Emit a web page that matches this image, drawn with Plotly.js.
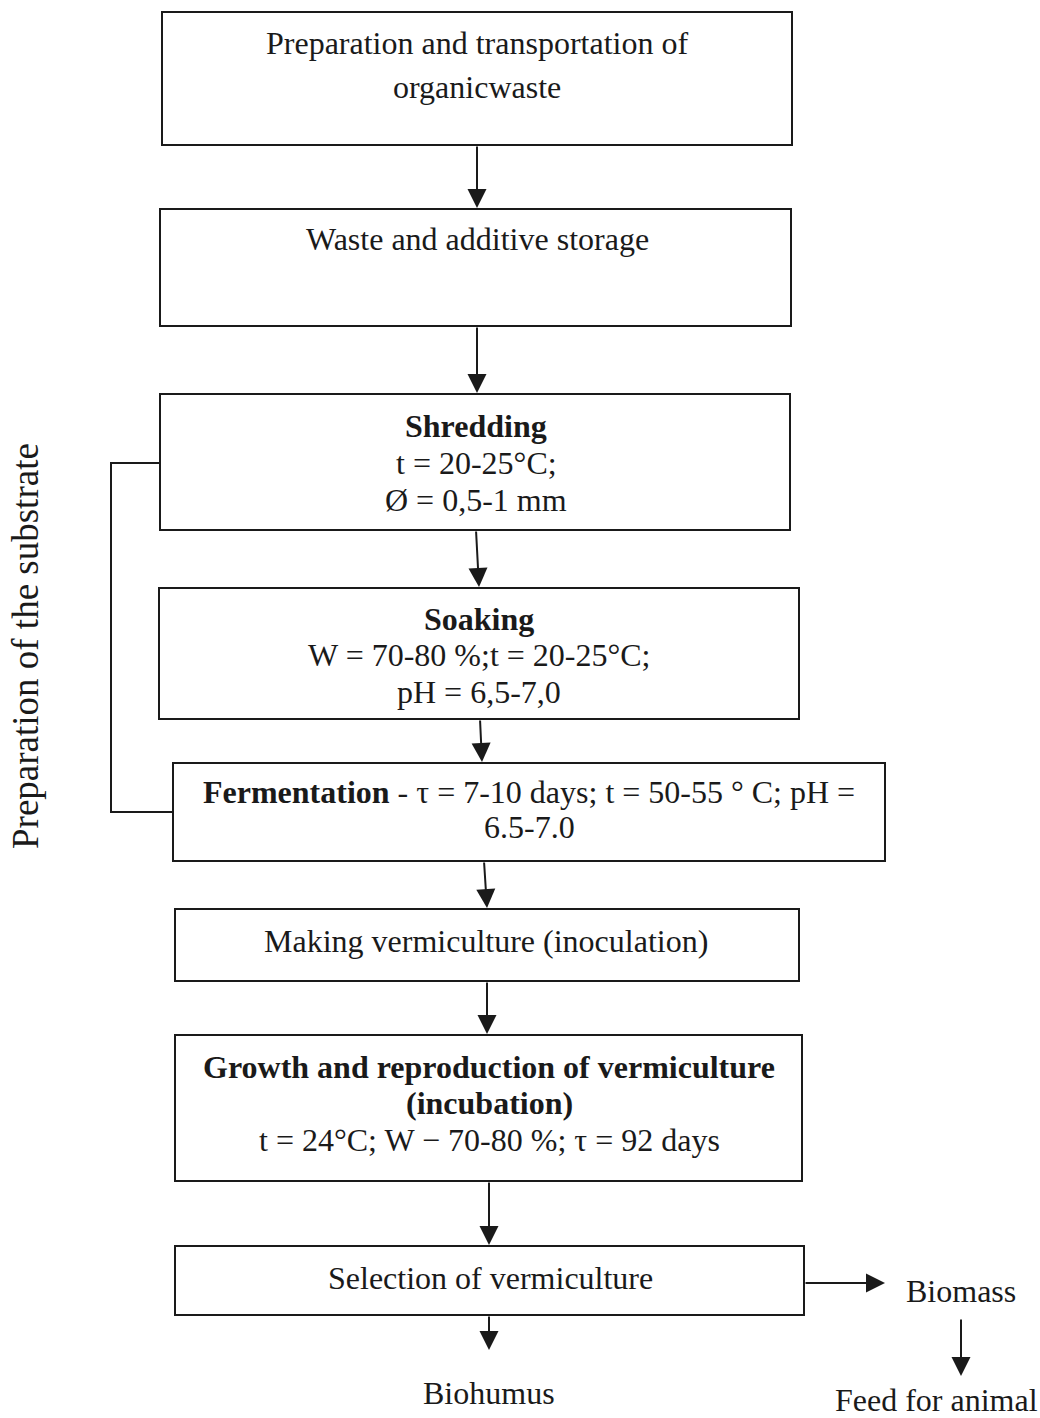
<!DOCTYPE html>
<html>
<head>
<meta charset="utf-8">
<script src="https://cdn.plot.ly/plotly-3.0.1.min.js"></script>
<style>html,body{margin:0;padding:0;background:#fff;}#chart{width:1040px;height:1418px;}</style>
</head>
<body>
<div id="chart"></div>
<script>
// ---- content (text of the flowchart) ----
const step1Lines = ["Preparation and transportation of", "organicwaste"];
const step2Lines = ["Waste and additive storage"];
const step3Lines = ["<b>Shredding</b>", "t = 20-25°C;", "Ø = 0,5-1 mm"];
const step4Lines = ["<b>Soaking</b>", "W = 70-80 %;t = 20-25°C;", "pH = 6,5-7,0"];
const step5Lines = ["<b>Fermentation</b> - τ = 7-10 days; t = 50-55 ° C; pH =", "6.5-7.0"];
const step6Lines = ["Making vermiculture (inoculation)"];
const step7Lines = ["<b>Growth and reproduction of vermiculture</b>", "<b>(incubation)</b>", "t = 24°C; W − 70-80 %; τ = 92 days"];
const step8Lines = ["Selection of vermiculture"];
const outputLabels = ["Biomass", "Feed for animal", "Biohumus"];
const groupLabel = "Preparation of the substrate";

// ---- geometry (pixel layout, separate from content) ----
const boxes = [
  {x0:162, x1:792, y0:12,  y1:145, lines:step1Lines, tx:477, ty:[43, 87]},
  {x0:160, x1:791, y0:209, y1:326, lines:step2Lines, tx:477, ty:[239]},
  {x0:160, x1:790, y0:394, y1:530, lines:step3Lines, tx:476, ty:[426, 463, 500]},
  {x0:159, x1:799, y0:588, y1:719, lines:step4Lines, tx:479, ty:[619, 655, 692]},
  {x0:173, x1:885, y0:763, y1:861, lines:step5Lines, tx:529, ty:[792, 827]},
  {x0:175, x1:799, y0:909, y1:981, lines:step6Lines, tx:486, ty:[941]},
  {x0:175, x1:802, y0:1035,y1:1181,lines:step7Lines, tx:489, ty:[1067, 1103, 1140]},
  {x0:175, x1:804, y0:1246,y1:1315,lines:step8Lines, tx:490, ty:[1278]}
];
const arrows = [
  {x0:477, y0:145, x1:477, y1:208},
  {x0:477, y0:326, x1:477, y1:393},
  {x0:476, y0:530, x1:479, y1:587},
  {x0:480, y0:719, x1:482, y1:762},
  {x0:484, y0:861, x1:487, y1:908},
  {x0:487, y0:981, x1:487, y1:1034},
  {x0:489, y0:1181,x1:489, y1:1245},
  {x0:804, y0:1283,x1:885, y1:1283},
  {x0:961, y0:1318,x1:961, y1:1376},
  {x0:489, y0:1315,x1:489, y1:1350}
];
const outputPos = [{x:961, y:1291}, {x:936, y:1400}, {x:489, y:1393}];

const FONT = "Liberation Serif, Times New Roman, serif";
const FS = 32;
const INK = '#1a1a1a';

const shapes = [];
const annotations = [];

boxes.forEach(b => {
  shapes.push({type:'rect', xref:'x', yref:'y', x0:b.x0, x1:b.x1, y0:b.y0, y1:b.y1,
    line:{color:INK, width:2}, fillcolor:'rgba(0,0,0,0)'});
  b.lines.forEach((t, i) => {
    annotations.push({x:b.tx, y:b.ty[i], xref:'x', yref:'y', text:t, showarrow:false,
      xanchor:'center', yanchor:'middle', font:{family:FONT, size:FS, color:INK}});
  });
});

// bracket grouping the substrate preparation steps
shapes.push({type:'path', xref:'x', yref:'y',
  path:'M 160 463 L 111 463 L 111 812 L 173 812', line:{color:INK, width:2}});

arrows.forEach(a => {
  annotations.push({x:a.x1, y:a.y1, ax:a.x0, ay:a.y0, xref:'x', yref:'y', axref:'x', ayref:'y',
    text:'', showarrow:true, arrowhead:2, arrowsize:1.9, arrowwidth:2, arrowcolor:INK, standoff:0});
});

outputLabels.forEach((t, i) => {
  annotations.push({x:outputPos[i].x, y:outputPos[i].y, xref:'x', yref:'y', text:t, showarrow:false,
    xanchor:'center', yanchor:'middle', font:{family:FONT, size:FS, color:INK}});
});

annotations.push({x:25.5, y:646.5, xref:'x', yref:'y', text:groupLabel, showarrow:false, textangle:-90,
  xanchor:'center', yanchor:'middle', font:{family:FONT, size:37, color:INK}});

const layout = {
  width:1040, height:1418,
  margin:{l:0, r:0, t:0, b:0},
  paper_bgcolor:'#fff', plot_bgcolor:'#fff',
  xaxis:{range:[0,1040], visible:false, fixedrange:true},
  yaxis:{range:[1418,0], visible:false, fixedrange:true},
  shapes:shapes, annotations:annotations, showlegend:false
};
Plotly.newPlot('chart', [], layout, {staticPlot:true});
</script>
</body>
</html>
